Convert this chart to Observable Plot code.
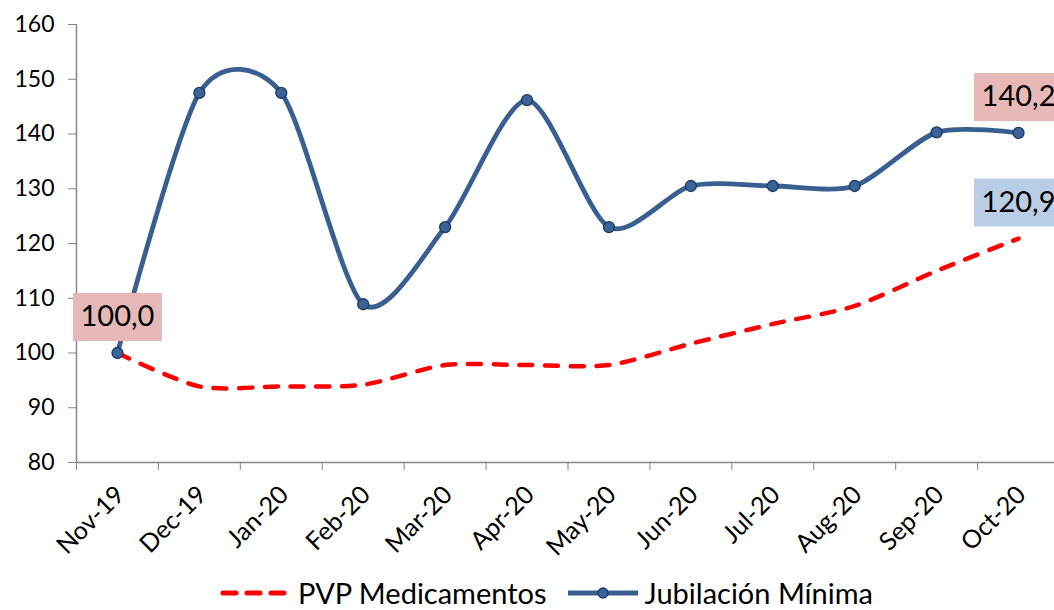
<!DOCTYPE html>
<html><head><meta charset="utf-8">
<script src="https://cdn.jsdelivr.net/npm/d3@7"></script>
<script src="https://cdn.jsdelivr.net/npm/@observablehq/plot@0.6"></script>
<style>
html,body{margin:0;padding:0;background:#fff;overflow:hidden;}
body{width:1054px;height:610px;font-family:Lato,sans-serif;}
#chart svg{overflow:hidden;display:block}
.legend{display:flex;justify-content:flex-start;align-items:center;height:35px;font-size:29px;color:#000;padding-left:218px;white-space:nowrap}
.legend svg{display:block}
</style></head><body>
<div id="chart"></div>
<div class="legend" id="legend"></div>
<script>
const months = ["Nov-19","Dec-19","Jan-20","Feb-20","Mar-20","Apr-20","May-20","Jun-20","Jul-20","Aug-20","Sep-20","Oct-20"];
const pvp = [100.0, 93.9, 93.9, 94.2, 97.8, 97.8, 97.8, 101.7, 105.3, 108.6, 115.0, 120.9];
const jubilacion = [100.0, 147.5, 147.5, 108.9, 123.0, 146.2, 123.0, 130.5, 130.5, 130.5, 140.3, 140.2];
const yTicks = [80, 90, 100, 110, 120, 130, 140, 150, 160];
const seriesNames = ["PVP Medicamentos", "Jubilación Mínima"];

const rows = months.map((m, i) => ({i, m, pvp: pvp[i], jub: jubilacion[i]}));
const labelsPink = [{i: 0, v: jubilacion[0]}, {i: 11, v: jubilacion[11]}];
const labelsBlue = [{i: 11, v: pvp[11]}];
const fmt = v => v.toFixed(1).replace(".", ",");
const boxSymbol = {draw(ctx) { ctx.moveTo(-44.5, -24); ctx.lineTo(44.5, -24); ctx.lineTo(44.5, 24); ctx.lineTo(-44.5, 24); ctx.closePath(); }};
const boundaries = d3.range(-0.5, months.length, 1);

const chart = Plot.plot({
  width: 1054, height: 575,
  marginLeft: 76, marginRight: 0, marginTop: 24, marginBottom: 113,
  x: {domain: [-0.5, months.length - 0.5], range: [76, 1059]},
  y: {domain: [80, 160]},
  style: {fontFamily: "Lato, sans-serif", fontSize: "23px", color: "#000", background: "#fff", overflow: "hidden"},
  marks: [
    Plot.ruleX([-0.5], {stroke: "#868686", strokeWidth: 1.5}),
    Plot.ruleY([80], {stroke: "#868686", strokeWidth: 1.5}),
    Plot.axisY(yTicks, {tickSize: 8, tickPadding: 14, stroke: "#868686", fill: "#000", fontSize: 23, label: null}),
    Plot.axisX(boundaries, {tickSize: 8, tickFormat: () => "", stroke: "#868686", label: null}),
    Plot.axisX(d3.range(months.length), {tickSize: 0, tickPadding: 28, dx: 3, tickRotate: -45, tickFormat: i => months[i], fill: "#000", fontSize: 25, label: null}),
    Plot.line(rows, {x: "i", y: "pvp", stroke: "#FF0000", strokeWidth: 4.5, strokeDasharray: "13,12.7", strokeLinecap: "round", curve: "cardinal", tension: 0.2}),
    Plot.line(rows, {x: "i", y: "jub", stroke: "#385F90", strokeWidth: 4.8, curve: "cardinal", tension: 0.2}),
    Plot.dot(rows, {x: "i", y: "jub", r: 5.5, fill: "#3B6398", stroke: "#1D3A61", strokeWidth: 1.3}),
    Plot.dot(labelsPink, {x: "i", y: "v", dy: -36, r: 5, symbol: boxSymbol, fill: "#E6B9B8", stroke: "none"}),
    Plot.dot(labelsBlue, {x: "i", y: "v", dy: -36, r: 5, symbol: boxSymbol, fill: "#B9CDE5", stroke: "none"}),
    Plot.text([...labelsPink, ...labelsBlue], {x: "i", y: "v", dy: -36, text: d => fmt(d.v), fontSize: 29, fill: "#000", lineAnchor: "middle"})
  ]
});
document.getElementById("chart").appendChild(chart);

const legend = document.getElementById("legend");
legend.innerHTML =
  `<svg width="74" height="20"><line x1="5" y1="10" x2="69" y2="10" stroke="#FF0000" stroke-width="5" stroke-dasharray="13,11" stroke-linecap="round"/></svg>` +
  `<span style="margin-left:6px">${seriesNames[0]}</span>` +
  `<svg width="76" height="20" style="margin-left:18px"><line x1="3" y1="10" x2="73" y2="10" stroke="#385F90" stroke-width="5"/><circle cx="38" cy="10" r="5" fill="#3B6398" stroke="#1D3A61" stroke-width="1.3"/></svg>` +
  `<span style="margin-left:4px">${seriesNames[1]}</span>`;
</script>
</body></html>
